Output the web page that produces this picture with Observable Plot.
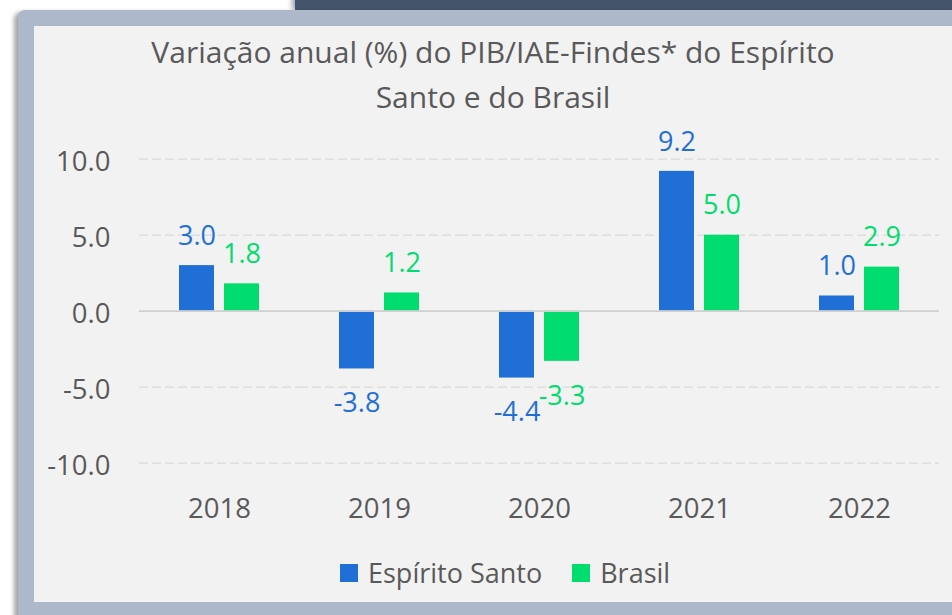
<!DOCTYPE html>
<html>
<head>
<meta charset="utf-8">
<script src="https://cdn.jsdelivr.net/npm/d3@7"></script>
<script src="https://cdn.jsdelivr.net/npm/@observablehq/plot@0.6"></script>
<style>
  html, body { margin: 0; padding: 0; }
  body { width: 952px; height: 615px; overflow: hidden; position: relative; background: #ffffff; font-family: "Open Sans", sans-serif; }
  #navy { position: absolute; left: 295px; top: -10px; width: 700px; height: 20px; background: #44546a; box-shadow: -3px 0 5px rgba(0,0,0,0.35); border-left: 1px solid #2f5597; }
  #frame { position: absolute; left: 18px; top: 10px; width: 980px; height: 640px; background: #adb8cb; border-radius: 7px; box-shadow: -4px 2px 4px rgba(0,0,0,0.35); }
  #panel { position: absolute; left: 34px; top: 26px; width: 940px; height: 576px; background: #f2f2f2; }
  #title { position: absolute; left: 34px; width: 918px; top: 29px; text-align: center; color: #595959; font-size: 30px; line-height: 45px; }
  #chart { position: absolute; left: 0; top: 120px; }
  #legend { position: absolute; left: 340px; top: 553px; display: flex; align-items: center; color: #595959; font-size: 27px; line-height: 40px; }
  .item { display: flex; align-items: center; margin-right: 30px; }
  .sw { width: 18px; height: 18px; margin-right: 10px; }
</style>
</head>
<body>
<div id="navy"></div>
<div id="frame"></div>
<div id="panel"></div>
<div id="title">Variação anual (%) do PIB/IAE-Findes* do Espírito<br>Santo e do Brasil</div>
<div id="chart"></div>
<div id="legend"></div>
<script>
const years = ["2018", "2019", "2020", "2021", "2022"];
const espiritoSanto = [3.0, -3.8, -4.4, 9.2, 1.0];
const brasil = [1.8, 1.2, -3.3, 5.0, 2.9];
const series = ["Espírito Santo", "Brasil"];
const colors = ["#1f6fd6", "#00dc6e"];
const yTicks = [-10, -5, 0, 5, 10];
const gridTicks = [-10, -5, 5, 10];

const rows = [];
years.forEach((yr, i) => {
  rows.push({year: yr, series: series[0], value: espiritoSanto[i]});
  rows.push({year: yr, series: series[1], value: brasil[i]});
});
const fmt = d => d.toFixed(1);

const chart = Plot.plot({
  width: 952,
  height: 420,
  marginLeft: 138,
  marginRight: 12,
  marginTop: 38.7,
  marginBottom: 77.3,
  style: {background: "transparent", color: "#595959", fontFamily: "Open Sans, sans-serif", fontSize: "27px"},
  fx: {domain: years, padding: 0, label: null, axis: null},
  x: {domain: series, paddingInner: 0.217, paddingOuter: 0.852, axis: null},
  y: {domain: [-10, 10], axis: null},
  color: {domain: series, range: colors},
  marks: [
    Plot.ruleY(gridTicks, {stroke: "#d9d9d9", strokeWidth: 1.3, strokeDasharray: "9,4"}),
    Plot.barY(rows, {fx: "year", x: "series", y: "value", fill: "series"}),
    Plot.ruleY([0], {stroke: "#d0d0d0", strokeWidth: 1.7}),
    Plot.text(rows.filter(d => d.value >= 0), {fx: "year", x: "series", y: "value", text: d => fmt(d.value), fill: "series", dy: -29.5, fontSize: 27}),
    Plot.text(rows.filter(d => d.value < 0), {fx: "year", x: "series", y: "value", text: d => fmt(d.value), fill: "series", dy: 34.5, fontSize: 27}),
    Plot.axisY({ticks: yTicks, tickFormat: fmt, tickSize: 0, tickPadding: 29, dy: 2.5, label: null, fontSize: 27.5}),
    Plot.axisFx({anchor: "bottom", tickSize: 0, tickPadding: 35, label: null, fontSize: 27.5})
  ]
});
document.getElementById("chart").appendChild(chart);

const legend = document.getElementById("legend");
series.forEach((s, i) => {
  const item = document.createElement("div");
  item.className = "item";
  const sw = document.createElement("div");
  sw.className = "sw";
  sw.style.background = colors[i];
  const label = document.createElement("span");
  label.textContent = s;
  item.appendChild(sw);
  item.appendChild(label);
  legend.appendChild(item);
});
</script>
</body>
</html>
